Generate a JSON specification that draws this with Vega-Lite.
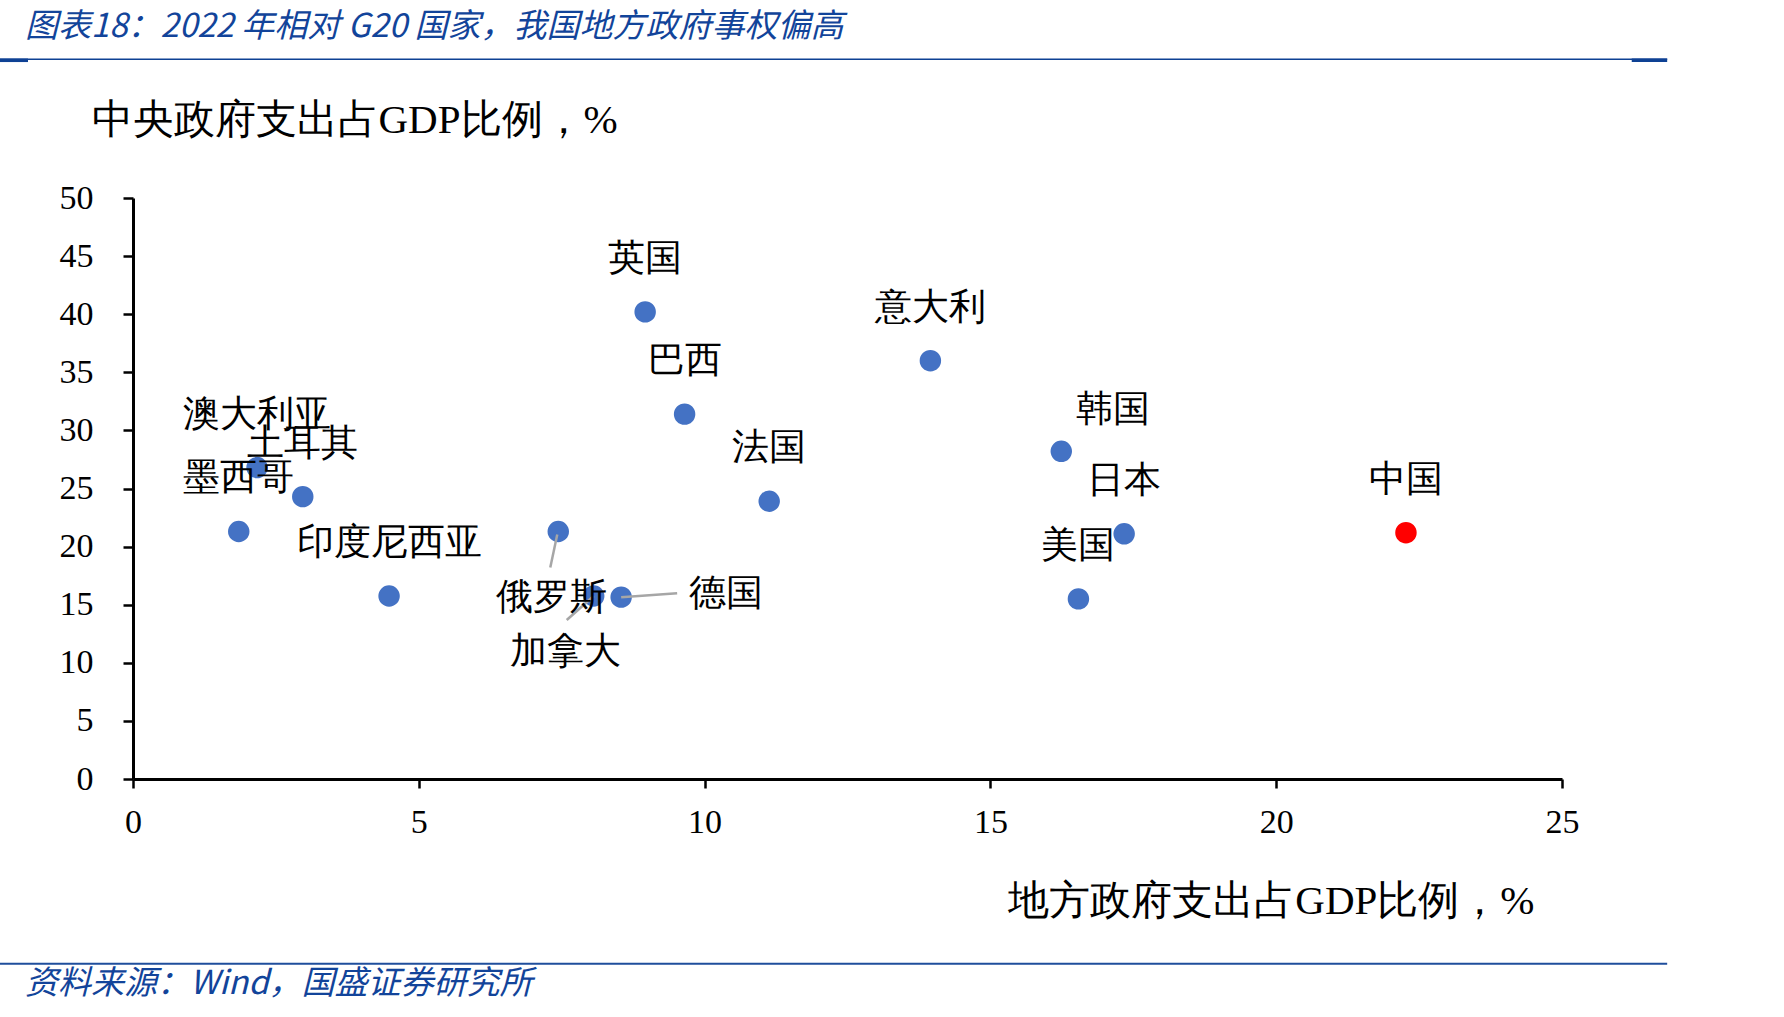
{
  "$schema": "https://vega.github.io/schema/vega-lite/v6.json",
  "width": 1429,
  "height": 581,
  "autosize": {"type": "none"},
  "padding": {"left": 133, "top": 198, "right": 222, "bottom": 238},
  "background": "white",
  "config": {
    "view": {"stroke": null},
    "font": "Liberation Serif"
  },
  "datasets": {
    "g20": [
      {"国家": "墨西哥", "地方": 1.85, "中央": 21.3, "组": "其他"},
      {"国家": "澳大利亚", "地方": 2.17, "中央": 26.8, "组": "其他"},
      {"国家": "土耳其", "地方": 2.97, "中央": 24.3, "组": "其他"},
      {"国家": "印度尼西亚", "地方": 4.48, "中央": 15.75, "组": "其他"},
      {"国家": "俄罗斯", "地方": 7.44, "中央": 21.3, "组": "其他"},
      {"国家": "加拿大", "地方": 8.06, "中央": 15.75, "组": "其他"},
      {"国家": "德国", "地方": 8.54, "中央": 15.65, "组": "其他"},
      {"国家": "英国", "地方": 8.96, "中央": 40.2, "组": "其他"},
      {"国家": "巴西", "地方": 9.65, "中央": 31.4, "组": "其他"},
      {"国家": "法国", "地方": 11.13, "中央": 23.9, "组": "其他"},
      {"国家": "意大利", "地方": 13.95, "中央": 36.0, "组": "其他"},
      {"国家": "韩国", "地方": 16.24, "中央": 28.2, "组": "其他"},
      {"国家": "美国", "地方": 16.54, "中央": 15.5, "组": "其他"},
      {"国家": "日本", "地方": 17.34, "中央": 21.1, "组": "其他"},
      {"国家": "中国", "地方": 22.27, "中央": 21.2, "组": "中国"}
    ],
    "blank": [{}]
  },
  "layer": [
    {
      "data": {"name": "g20"},
      "mark": {"type": "circle", "size": 460, "opacity": 1},
      "encoding": {
        "x": {
          "field": "地方", "type": "quantitative",
          "scale": {"domain": [0, 25], "nice": false, "zero": false},
          "axis": {
            "title": "地方政府支出占GDP比例，%",
            "values": [0, 5, 10, 15, 20, 25],
            "format": "d",
            "grid": false,
            "domainColor": "black", "domainWidth": 3,
            "tickColor": "black", "tickWidth": 2.5, "tickSize": 9,
            "labelFont": "Liberation Serif", "labelFontSize": 34, "labelColor": "black",
            "labelPadding": 34, "labelBaseline": "middle", "labelFlush": false,
            "titleFont": "Liberation Serif", "titleFontSize": 41, "titleFontWeight": "normal", "titleColor": "black",
            "titleAnchor": null, "titleX": 1401, "titleY": 122, "titleAlign": "right", "titleBaseline": "middle"
          }
        },
        "y": {
          "field": "中央", "type": "quantitative",
          "scale": {"domain": [0, 50], "nice": false, "zero": false},
          "axis": {
            "title": "中央政府支出占GDP比例，%",
            "values": [0, 5, 10, 15, 20, 25, 30, 35, 40, 45, 50],
            "format": "d",
            "grid": false,
            "domainColor": "black", "domainWidth": 3,
            "tickColor": "black", "tickWidth": 2.5, "tickSize": 10,
            "labelFont": "Liberation Serif", "labelFontSize": 34, "labelColor": "black",
            "labelPadding": 30, "labelFlush": false,
            "titleFont": "Liberation Serif", "titleFontSize": 41, "titleFontWeight": "normal", "titleColor": "black",
            "titleAngle": 0, "titleAnchor": null, "titleX": -42, "titleY": -78, "titleAlign": "left", "titleBaseline": "middle"
          }
        },
        "color": {
          "field": "组", "type": "nominal",
          "scale": {"domain": ["其他", "中国"], "range": ["#4472C4", "#FF0000"]},
          "legend": null
        }
      }
    },
    {
      "data": {"name": "g20"},
      "transform": [{"filter": "datum['国家'] == '俄罗斯'"}],
      "mark": {"type": "rule", "color": "#A6A6A6", "strokeWidth": 2.5, "xOffset": -1, "yOffset": 3, "x2Offset": -8, "y2Offset": 36},
      "encoding": {
        "x": {"field": "地方", "type": "quantitative"},
        "y": {"field": "中央", "type": "quantitative"},
        "x2": {"field": "地方"},
        "y2": {"field": "中央"}
      }
    },
    {
      "data": {"name": "g20"},
      "transform": [{"filter": "datum['国家'] == '加拿大'"}],
      "mark": {"type": "rule", "color": "#A6A6A6", "strokeWidth": 2.5, "x2Offset": -27, "y2Offset": 24},
      "encoding": {
        "x": {"field": "地方", "type": "quantitative"},
        "y": {"field": "中央", "type": "quantitative"},
        "x2": {"field": "地方"},
        "y2": {"field": "中央"}
      }
    },
    {
      "data": {"name": "g20"},
      "transform": [{"filter": "datum['国家'] == '德国'"}],
      "mark": {"type": "rule", "color": "#A6A6A6", "strokeWidth": 2.5, "x2Offset": 56, "y2Offset": -4},
      "encoding": {
        "x": {"field": "地方", "type": "quantitative"},
        "y": {"field": "中央", "type": "quantitative"},
        "x2": {"field": "地方"},
        "y2": {"field": "中央"}
      }
    },
    {
      "data": {"name": "g20"},
      "transform": [{"filter": "indexof(['韩国','俄罗斯','加拿大','德国'], datum['国家']) < 0"}],
      "mark": {"type": "text", "fontSize": 37, "font": "Liberation Serif", "color": "black", "dy": -53, "align": "center", "baseline": "middle"},
      "encoding": {
        "x": {"field": "地方", "type": "quantitative"},
        "y": {"field": "中央", "type": "quantitative"},
        "text": {"field": "国家"}
      }
    },
    {
      "data": {"name": "g20"},
      "transform": [{"filter": "datum['国家'] == '韩国'"}],
      "mark": {"type": "text", "fontSize": 37, "font": "Liberation Serif", "color": "black", "dx": 52, "dy": -41, "align": "center", "baseline": "middle"},
      "encoding": {
        "x": {"field": "地方", "type": "quantitative"},
        "y": {"field": "中央", "type": "quantitative"},
        "text": {"field": "国家"}
      }
    },
    {
      "data": {"name": "g20"},
      "transform": [{"filter": "datum['国家'] == '俄罗斯'"}],
      "mark": {"type": "text", "fontSize": 37, "font": "Liberation Serif", "color": "black", "dx": -7, "dy": 67, "align": "center", "baseline": "middle"},
      "encoding": {
        "x": {"field": "地方", "type": "quantitative"},
        "y": {"field": "中央", "type": "quantitative"},
        "text": {"field": "国家"}
      }
    },
    {
      "data": {"name": "g20"},
      "transform": [{"filter": "datum['国家'] == '加拿大'"}],
      "mark": {"type": "text", "fontSize": 37, "font": "Liberation Serif", "color": "black", "dx": -28, "dy": 56, "align": "center", "baseline": "middle"},
      "encoding": {
        "x": {"field": "地方", "type": "quantitative"},
        "y": {"field": "中央", "type": "quantitative"},
        "text": {"field": "国家"}
      }
    },
    {
      "data": {"name": "g20"},
      "transform": [{"filter": "datum['国家'] == '德国'"}],
      "mark": {"type": "text", "fontSize": 37, "font": "Liberation Serif", "color": "black", "dx": 105, "dy": -3, "align": "center", "baseline": "middle"},
      "encoding": {
        "x": {"field": "地方", "type": "quantitative"},
        "y": {"field": "中央", "type": "quantitative"},
        "text": {"field": "国家"}
      }
    },
    {
      "data": {"name": "blank"},
      "mark": {"type": "rule", "color": "#0E4194", "strokeWidth": 1.5, "clip": false},
      "encoding": {
        "x": {"datum": -2.327, "type": "quantitative"},
        "x2": {"datum": 26.84},
        "y": {"datum": 61.95, "type": "quantitative"}
      }
    },
    {
      "data": {"name": "blank"},
      "mark": {"type": "rule", "color": "#0E4194", "strokeWidth": 3.5, "clip": false},
      "encoding": {
        "x": {"datum": -2.327, "type": "quantitative"},
        "x2": {"datum": -1.837},
        "y": {"datum": 61.85, "type": "quantitative"}
      }
    },
    {
      "data": {"name": "blank"},
      "mark": {"type": "rule", "color": "#0E4194", "strokeWidth": 3.5, "clip": false},
      "encoding": {
        "x": {"datum": 26.22, "type": "quantitative"},
        "x2": {"datum": 26.84},
        "y": {"datum": 61.85, "type": "quantitative"}
      }
    },
    {
      "data": {"name": "blank"},
      "mark": {"type": "rule", "color": "#1F4E9C", "strokeWidth": 2, "clip": false},
      "encoding": {
        "x": {"datum": -2.327, "type": "quantitative"},
        "x2": {"datum": 26.84},
        "y": {"datum": -15.89, "type": "quantitative"}
      }
    },
    {
      "data": {"name": "blank"},
      "mark": {"type": "text", "text": "图表18：2022 年相对 G20 国家，我国地方政府事权偏高", "font": "Noto Sans CJK SC", "fontStyle": "italic", "fontSize": 33, "color": "#12449A", "align": "left", "baseline": "middle", "clip": false},
      "encoding": {
        "x": {"datum": -1.89, "type": "quantitative"},
        "y": {"datum": 64.75, "type": "quantitative"}
      }
    },
    {
      "data": {"name": "blank"},
      "mark": {"type": "text", "text": "资料来源：Wind，国盛证券研究所", "font": "Noto Sans CJK SC", "fontStyle": "italic", "fontSize": 33, "color": "#12449A", "align": "left", "baseline": "middle", "clip": false},
      "encoding": {
        "x": {"datum": -1.89, "type": "quantitative"},
        "y": {"datum": -17.6, "type": "quantitative"}
      }
    }
  ]
}
